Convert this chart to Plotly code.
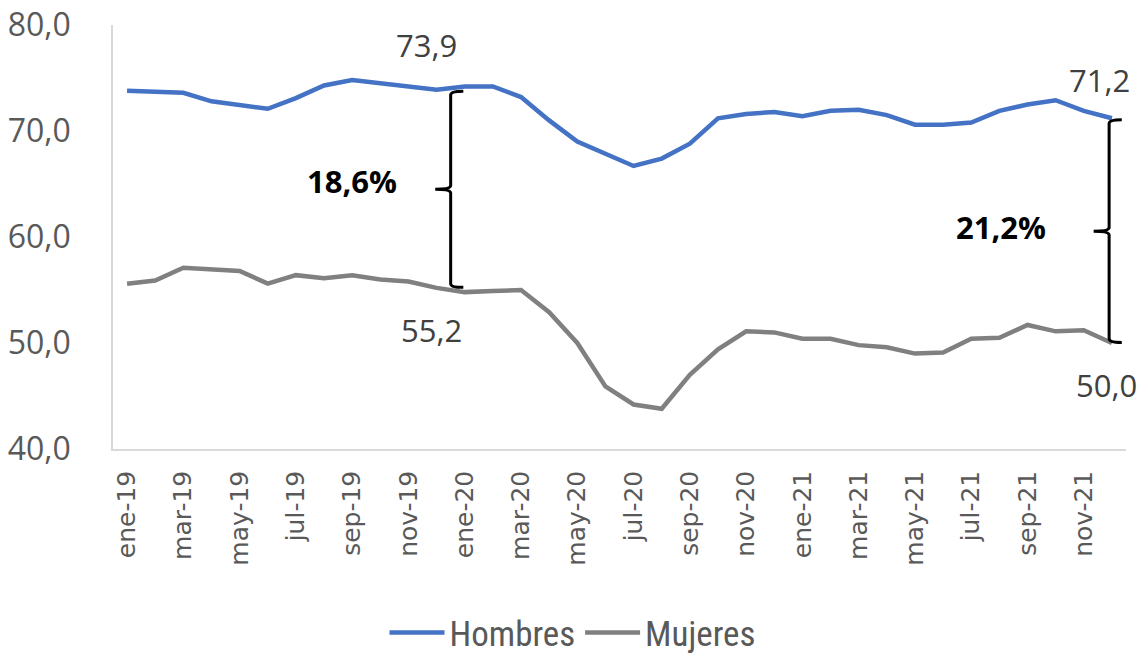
import plotly.graph_objects as go

meses = ["ene", "feb", "mar", "abr", "may", "jun", "jul", "ago", "sep", "oct", "nov", "dic"]
periodos = [f"{m}-{a}" for a in ("19", "20", "21") for m in meses]

hombres = [73.8, 73.7, 73.6, 72.8, 72.4, 72.1, 73.1, 74.3, 74.8, 74.5, 74.2, 73.9,
           74.2, 74.2, 73.2, 71.0, 69.0, 67.9, 66.7, 67.4, 68.8, 71.2, 71.6, 71.8,
           71.4, 71.9, 72.0, 71.5, 70.6, 70.6, 70.8, 71.9, 72.5, 72.9, 71.9, 71.2]
mujeres = [55.6, 55.9, 57.1, 56.9, 56.8, 55.6, 56.4, 56.1, 56.4, 56.0, 55.8, 55.2,
           54.8, 54.9, 55.0, 52.9, 50.0, 45.9, 44.2, 43.8, 47.0, 49.4, 51.1, 51.0,
           50.4, 50.4, 49.8, 49.6, 49.0, 49.1, 50.4, 50.5, 51.7, 51.1, 51.2, 50.0]

etiquetas_h = {11: "73,9", 35: "71,2"}
etiquetas_m = {11: "55,2", 35: "50,0"}
brechas = {11: "18,6%", 35: "21,2%"}

x = list(range(len(periodos)))
tickvals = x[::2]
ticktext = periodos[::2]

fig = go.Figure()
fig.add_trace(go.Scatter(x=x, y=hombres, mode="lines", name="Hombres",
                         line=dict(color="#4472C4", width=4.5)))
fig.add_trace(go.Scatter(x=x, y=mujeres, mode="lines", name="Mujeres",
                         line=dict(color="#808080", width=4.5)))

label_font = dict(family="Open Sans, DejaVu Sans", size=31, color="#404040")
annotations = []
for i, t in etiquetas_h.items():
    annotations.append(dict(x=i, y=hombres[i], text=t, showarrow=False,
                            xshift=-10 if i < 20 else -12, yshift=45 if i < 20 else 38,
                            font=label_font))
for i, t in etiquetas_m.items():
    annotations.append(dict(x=i, y=mujeres[i], text=t, showarrow=False,
                            xshift=-5 if i < 20 else -5, yshift=-42, font=label_font))

shapes = []
for i, t in brechas.items():
    xv = i + 0.5 if i < 20 else i - 0.1
    top = hombres[i] - 0.15
    bot = mujeres[i] + 0.05
    mid = (top + bot) / 2
    hook = xv + 0.45
    point = xv - 0.55
    d = 0.35
    path = (f"M {hook},{top} Q {xv},{top} {xv},{top - d} "
            f"L {xv},{mid + d} Q {xv},{mid} {point},{mid} "
            f"Q {xv},{mid} {xv},{mid - d} "
            f"L {xv},{bot + d} Q {xv},{bot} {hook},{bot}")
    shapes.append(dict(type="path", path=path, xref="x", yref="y",
                       line=dict(color="black", width=3)))
    annotations.append(dict(x=point - 1.0, y=mid, text=f"<b>{t}</b>", showarrow=False,
                            xanchor="right", xshift=-8 if i < 20 else -18,
                            yshift=8 if i < 20 else 4,
                            font=dict(family="Open Sans, DejaVu Sans", size=31, color="black")))

fig.update_layout(
    width=1145, height=655,
    margin=dict(l=113, r=19, t=25, b=206),
    plot_bgcolor="white", paper_bgcolor="white",
    showlegend=True,
    legend=dict(orientation="h", x=0.5, xanchor="center", xref="container",
                y=0.034, yanchor="middle", yref="container",
                font=dict(family="Liberation Sans Narrow, Roboto Condensed, Liberation Sans", size=35, color="#595959"),
                itemwidth=55, tracegroupgap=0),
    xaxis=dict(range=[-0.5, 35.5], tickmode="array", tickvals=tickvals, ticktext=ticktext,
               tickangle=-90, showgrid=False, zeroline=False, automargin=False,
               showline=True, linecolor="#D9D9D9", linewidth=1.5, ticks="",
               ticklabelstandoff=10, ticklabeloverflow="allow",
               tickfont=dict(family="DejaVu Sans", size=25, color="#595959")),
    yaxis=dict(range=[40, 80], tickmode="array", tickvals=[40, 50, 60, 70, 80],
               ticktext=["40,0", "50,0", "60,0", "70,0", "80,0"],
               showgrid=False, zeroline=False, showline=True, linecolor="#D9D9D9",
               linewidth=1.5, ticks="", ticklabelstandoff=34, automargin=False,
               ticklabeloverflow="allow",
               tickfont=dict(family="Open Sans, DejaVu Sans", size=32, color="#595959")),
    annotations=annotations,
    shapes=shapes,
)

fig.write_html("out.html", config={"displayModeBar": False},
               post_script="document.body.style.margin='0';")
